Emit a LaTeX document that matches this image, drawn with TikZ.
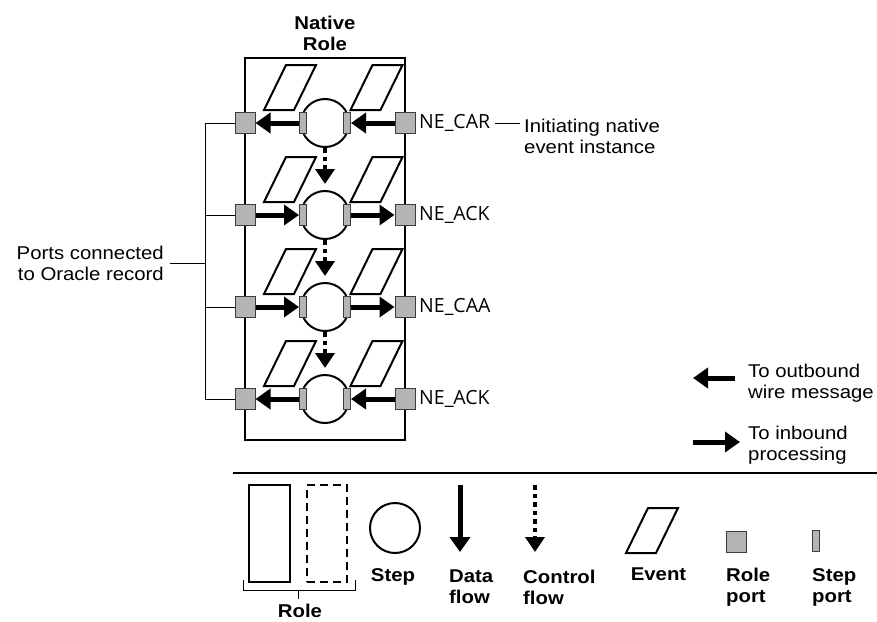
\documentclass[tikz,border=0pt]{standalone}
\usepackage{fontspec}
\setmainfont{Liberation Sans}[FakeStretch=1.1]
\newfontfamily\nefont{Open Sans}
\usetikzlibrary{arrows.meta}
\definecolor{portgray}{HTML}{B4B4B4}
\definecolor{portedge}{HTML}{3C3C3C}
\begin{document}
\begin{tikzpicture}[x=1pt,y=-1pt,
  txt/.style={font=\fontsize{18.5}{21}\selectfont, inner sep=0pt},
  btxt/.style={font=\fontsize{18.5}{21}\selectfont\bfseries, inner sep=0pt},
  netxt/.style={font=\nefont\fontsize{19.5}{22}\selectfont, inner sep=0pt},
  rolebox/.style={draw, line width=2pt, inner sep=0pt},
  rport/.style={draw=portedge, fill=portgray, line width=1pt, minimum width=20pt, minimum height=21pt, inner sep=0pt},
  sport/.style={draw=portedge, fill=portgray, line width=1pt, minimum width=7pt, minimum height=21pt, inner sep=0pt},
  stepc/.style={draw, circle, line width=2pt, minimum size=48pt, inner sep=0pt},
  dflow/.style={line width=5pt, -{Triangle[length=15pt,width=20pt]}},
  cflow/.style={line width=4.5pt, dash pattern=on 4.5pt off 4pt, -{Triangle[length=15pt,width=19pt]}},
  conn/.style={line width=1pt},
  event/.pic={\draw[line width=2pt, line join=miter] (-26,22.5) -- (4,22.5) -- (26,-22.5) -- (-4,-22.5) -- cycle;}
]
\useasboundingbox (0,0) rectangle (877,621);

% title
\node[btxt, align=center] (title) at (325,33) {Native\\Role};

% role box
\node[rolebox, minimum width=160pt, minimum height=382pt] (role) at (325,249) {};

% rows
\foreach \i/\y in {1/123,2/215,3/307,4/399}{
  \pic at (290,\y-35.5) {event};
  \pic at (376.5,\y-35.5) {event};
  \node[stepc] (st\i) at (325,\y) {};
  \node[sport] (spl\i) at (303,\y) {};
  \node[sport] (spr\i) at (347,\y) {};
  \node[rport] (rpl\i) at (245,\y) {};
  \node[rport] (rpr\i) at (405,\y) {};
}

% data flows
\foreach \i in {1,4}{
  \draw[dflow] (spl\i.west) -- (rpl\i.east);
  \draw[dflow] (rpr\i.west) -- (spr\i.east);
}
\foreach \i in {2,3}{
  \draw[dflow] (rpl\i.east) -- (spl\i.west);
  \draw[dflow] (spr\i.east) -- (rpr\i.west);
}

% control flows
\foreach \i/\j in {1/2,2/3,3/4}{
  \draw[cflow, shorten >=6pt] (st\i.south) -- (st\j.north);
}

% NE labels
\node[netxt, anchor=west] (ne1) at (419,123) {NE\_CAR};
\node[netxt, anchor=west] (ne2) at (419,215) {NE\_ACK};
\node[netxt, anchor=west] (ne3) at (419,307) {NE\_CAA};
\node[netxt, anchor=west] (ne4) at (419,399) {NE\_ACK};

\node[txt, align=left, anchor=west] (init) at (524,136.5) {Initiating native\\event instance};
\coordinate (initend) at (520,123);
\draw[conn] ([xshift=5pt]ne1.east) -- (initend);

% left bracket
\coordinate (bmid) at (205,263);
\node[txt, align=right, anchor=east] (ports) at (164,263) {Ports connected\\to Oracle record};
\draw[conn] (rpl1.west -| bmid) -- (rpl4.west -| bmid);
\foreach \i in {1,2,3,4}{
  \draw[conn] (rpl\i.west) -- (rpl\i.west -| bmid);
}
\draw[conn] ([xshift=6pt]ports.east |- bmid) -- (bmid);

% legend top right
\coordinate (outS) at (735,378);
\coordinate (outE) at (693,378);
\draw[dflow] (outS) -- (outE);
\node[txt, align=left, anchor=west] (outtxt) at (748,383.5) {To outbound\\wire message};
\coordinate (inS) at (693,442);
\coordinate (inE) at (740,442);
\draw[dflow] (inS) -- (inE);
\node[txt, align=left, anchor=west] (intxt) at (748,445.5) {To inbound\\processing};

% separator
\draw[line width=1.2pt] (233,473) -- (877,473);

% legend bottom
\node[rolebox, minimum width=41pt, minimum height=97pt] (lrole) at (269.5,533.5) {};
\node[rolebox, line width=2.4pt, dash pattern=on 8pt off 5pt, minimum width=40pt, minimum height=97pt] (lrole2) at (327,533.5) {};
\coordinate (bra) at (243,580);
\coordinate (brb) at (355,580);
\coordinate (brc) at (298,599);
\draw[conn] (bra) -- (243,590) -- (355,590) -- (brb);
\draw[conn] (298,590) -- (brc);
\node[btxt] (lroletxt) at (300,610.5) {Role};

\node[stepc, minimum size=50pt] (lstep) at (395,528) {};
\node[btxt] (lsteptxt) at (393,577) {Step};

\coordinate (dfa) at (460,485);
\coordinate (dfb) at (460,552);
\draw[dflow] (dfa) -- (dfb);
\node[btxt, align=left, anchor=west] (ldftxt) at (449,587) {Data\\flow};

\coordinate (cfa) at (535,485);
\coordinate (cfb) at (535,552);
\draw[cflow] (cfa) -- (cfb);
\node[btxt, align=left, anchor=west] (lcftxt) at (523,587) {Control\\flow};

\pic at (652,530.5) {event};
\node[btxt] (levtxt) at (658.5,574) {Event};

\node[rport] (lrport) at (736.5,542) {};
\node[btxt, align=left, anchor=west] (lrptxt) at (726,587) {Role\\port};

\node[sport] (lsport) at (815.5,541) {};
\node[btxt, align=left, anchor=west] (lsptxt) at (812,587) {Step\\port};
\end{tikzpicture}
\end{document}
